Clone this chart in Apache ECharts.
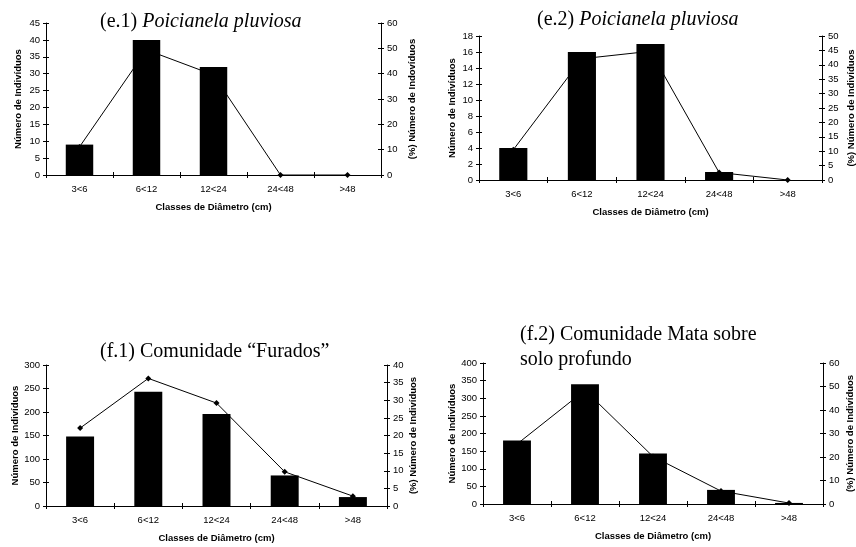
<!DOCTYPE html>
<html>
<head>
<meta charset="utf-8">
<script src="https://cdn.jsdelivr.net/npm/echarts@6/dist/echarts.min.js"></script>
<style>html,body{margin:0;padding:0;background:#fff}#c{width:856px;height:547px}</style>
</head>
<body>
<div id="c"></div>
<script>
const categories = ['3<6', '6<12', '12<24', '24<48', '>48'];
const e1Counts = [9, 40, 32, 0, 0];
const e1Pct = [11.1, 49.4, 39.5, 0, 0];
const e2Counts = [4, 16, 17, 1, 0];
const e2Pct = [10.5, 42.1, 44.7, 2.6, 0];
const f1Counts = [148, 243, 196, 65, 19];
const f1Pct = [22.1, 36.2, 29.2, 9.7, 2.8];
const f2Counts = [180, 340, 143, 40, 3];
const f2Pct = [25.5, 48.4, 20.2, 5.5, 0.4];
const leftMax = [45, 18, 300, 400];
const leftStep = [5, 2, 50, 50];
const rightMax = [60, 50, 40, 60];
const rightStep = [10, 5, 5, 10];
const xName = 'Classes de Diâmetro (cm)';
const leftName = 'Número de Indivíduos';
const rightNames = ['(%) Número de Indovíduos', '(%) Número de Indivíduos', '(%) Número de Indivíduos', '(%) Número de Indivíduos'];
const titles = ['(e.1) {it|Poicianela pluviosa}', '(e.2) {it|Poicianela pluviosa}', '(f.1) Comunidade “Furados”', '(f.2) Comunidade Mata sobre\nsolo profundo'];

const counts = [e1Counts, e2Counts, f1Counts, f2Counts];
const pcts = [e1Pct, e2Pct, f1Pct, f2Pct];

const grids = [
  {left: 46, top: 23, width: 335, height: 152},
  {left: 479, top: 36, width: 343, height: 144},
  {left: 46, top: 365, width: 341, height: 141},
  {left: 483, top: 363, width: 340, height: 141}
];
const leftGaps = [23, 22, 26, 26];
const rightGaps = [26, 24, 21, 22];
const titlePos = [
  {left: 100, top: 9},
  {left: 537, top: 7},
  {left: 100, top: 339},
  {left: 520, top: 322}
];

const sans = 'Liberation Sans, Arial, sans-serif';
const serif = 'Liberation Serif, Times New Roman, serif';
const tickFont = {fontFamily: sans, fontSize: 9.5, color: '#000'};
const nameFont = {fontFamily: sans, fontSize: 9.5, fontWeight: 'bold', color: '#000'};
const lineStyle = {color: '#000', width: 1};

const xAxis = [], yAxis = [], series = [];
grids.forEach((g, i) => {
  xAxis.push({
    type: 'category', gridIndex: i, data: categories, boundaryGap: true,
    axisLine: {show: true, lineStyle}, axisTick: {show: true, length: 3, lineStyle, alignWithLabel: false},
    axisLabel: Object.assign({margin: 9}, tickFont),
    name: xName, nameLocation: 'middle', nameGap: 27, nameTextStyle: nameFont,
    splitLine: {show: false}
  });
  xAxis.push({
    type: 'category', gridIndex: i, data: categories, boundaryGap: true, position: 'bottom',
    axisLine: {show: false}, axisTick: {show: true, inside: true, length: 3, lineStyle},
    axisLabel: {show: false}, splitLine: {show: false}
  });
  const base = yAxis.length;
  yAxis.push({
    type: 'value', gridIndex: i, position: 'left', min: 0, max: leftMax[i], interval: leftStep[i],
    axisLine: {show: true, lineStyle}, axisTick: {show: true, length: 3, lineStyle},
    axisLabel: Object.assign({margin: 6}, tickFont), splitLine: {show: false},
    name: leftName, nameLocation: 'middle', nameRotate: 90, nameGap: leftGaps[i], nameTextStyle: nameFont
  });
  yAxis.push({
    type: 'value', gridIndex: i, position: 'right', min: 0, max: rightMax[i], interval: rightStep[i],
    axisLine: {show: true, lineStyle}, axisTick: {show: true, length: 3, lineStyle},
    axisLabel: Object.assign({margin: 6}, tickFont), splitLine: {show: false},
    name: rightNames[i], nameLocation: 'middle', nameRotate: 90, nameGap: rightGaps[i], nameTextStyle: nameFont
  });
  yAxis.push({
    type: 'value', gridIndex: i, position: 'left', min: 0, max: leftMax[i], interval: leftStep[i],
    axisLine: {show: false}, axisTick: {show: true, inside: true, length: 3, lineStyle},
    axisLabel: {show: false}, splitLine: {show: false}
  });
  yAxis.push({
    type: 'value', gridIndex: i, position: 'right', min: 0, max: rightMax[i], interval: rightStep[i],
    axisLine: {show: false}, axisTick: {show: true, inside: true, length: 3, lineStyle},
    axisLabel: {show: false}, splitLine: {show: false}
  });
  series.push({
    type: 'line', xAxisIndex: i * 2, yAxisIndex: base + 1, data: pcts[i],
    symbol: 'diamond', symbolSize: 6, showSymbol: true,
    lineStyle: {color: '#000', width: 1}, itemStyle: {color: '#000'}, z: 1, animation: false
  });
  series.push({
    type: 'bar', xAxisIndex: i * 2, yAxisIndex: base, data: counts[i], barWidth: '41%',
    itemStyle: {color: '#000'}, z: 2, animation: false
  });
});

const title = titles.map((t, i) => ({
  text: t, left: titlePos[i].left, top: titlePos[i].top, padding: 0,
  textStyle: {
    fontFamily: serif, fontSize: 20, fontWeight: 'normal', color: '#000', lineHeight: 25,
    rich: {it: {fontFamily: serif, fontSize: 20, fontStyle: 'italic', color: '#000', lineHeight: 25}}
  }
}));

const chart = echarts.init(document.getElementById('c'), null, {renderer: 'canvas'});
chart.setOption({
  animation: false,
  backgroundColor: '#fff',
  title,
  grid: grids.map(g => Object.assign({containLabel: false, outerBoundsMode: 'none'}, g)),
  xAxis, yAxis, series
});
</script>
</body>
</html>
